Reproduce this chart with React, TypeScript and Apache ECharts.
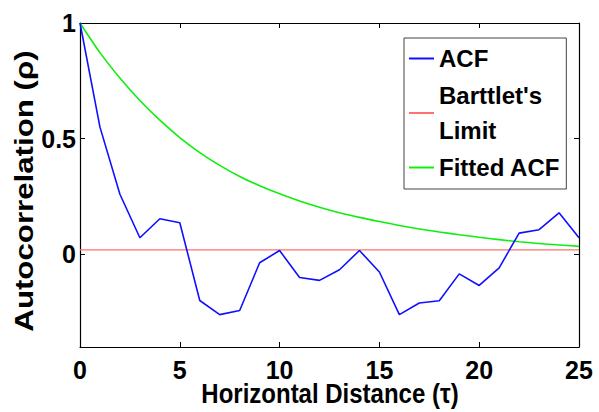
import React, { useEffect, useRef } from "react";
import * as echarts from "echarts";

const lags = [0, 1, 2, 3, 4, 5, 6, 7, 8, 9, 10, 11, 12, 13, 14, 15, 16, 17, 18, 19, 20, 21, 22, 23, 24, 25];
const acfValues = [1.0, 0.55, 0.26, 0.072, 0.154, 0.137, -0.199, -0.26, -0.242, -0.036, 0.017, -0.1, -0.112, -0.066, 0.017, -0.076, -0.26, -0.21, -0.2, -0.084, -0.134, -0.058, 0.092, 0.107, 0.18, 0.072];
const fittedValues = [1.0, 0.872, 0.762, 0.665, 0.58, 0.505, 0.44, 0.385, 0.337, 0.297, 0.262, 0.231, 0.204, 0.18, 0.16, 0.142, 0.125, 0.11, 0.097, 0.085, 0.074, 0.064, 0.055, 0.047, 0.041, 0.035];
const limitX = [0, 25];
const limitValue = 0.02;
const xTicks = [0, 5, 10, 15, 20, 25];
const yTicks = [0, 0.5, 1];
const seriesNames = ["ACF", "Barttlet's Limit", "Fitted ACF"];
const xTitle = "Horizontal Distance (τ)";
const yTitle = "Autocorrelation (ρ)";

const FONT = "'Liberation Sans', Arial, Helvetica, sans-serif";

export default function App() {
  const ref = useRef<HTMLDivElement>(null);
  useEffect(() => {
    if (!ref.current) return;
    const chart = echarts.init(ref.current, null, { renderer: "svg" });
    const axisLine = { show: true, onZero: false, lineStyle: { color: "#000", width: 1.2 } };
    const tick = { show: true, inside: true, length: 5, lineStyle: { color: "#000", width: 1 } };
    chart.setOption({
      animation: false,
      backgroundColor: "#fff",
      grid: { left: 80, right: 20, top: 23, bottom: 65, containLabel: false },
      xAxis: [
        {
          type: "value",
          min: 0,
          max: 25,
          interval: 5,
          position: "bottom",
          axisLine,
          axisTick: tick,
          splitLine: { show: false },
          axisLabel: {
            fontFamily: FONT,
            fontSize: 25,
            fontWeight: "bold",
            color: "#000",
            margin: 10,
            customValues: xTicks,
          },
        },
        {
          type: "value",
          min: 0,
          max: 25,
          interval: 5,
          position: "top",
          axisLine,
          axisTick: tick,
          splitLine: { show: false },
          axisLabel: { show: false },
        },
      ],
      yAxis: [
        {
          type: "value",
          min: -0.4,
          max: 1,
          position: "left",
          axisLine,
          axisTick: { ...tick, customValues: yTicks },
          splitLine: { show: false },
          axisLabel: {
            fontFamily: FONT,
            fontSize: 25,
            fontWeight: "bold",
            color: "#000",
            margin: 4,
            customValues: yTicks,
            formatter: (v: number) => String(v),
          },
        },
        {
          type: "value",
          min: -0.4,
          max: 1,
          position: "right",
          axisLine,
          axisTick: { ...tick, customValues: yTicks },
          splitLine: { show: false },
          axisLabel: { show: false, customValues: yTicks },
        },
      ],
      legend: {
        left: 404,
        top: 38,
        orient: "vertical",
        backgroundColor: "#fff",
        borderColor: "#444",
        borderWidth: 1,
        padding: [3, 6, 4, 5],
        itemGap: 2,
        itemWidth: 25,
        itemHeight: 2,
        icon: "rect",
        data: seriesNames,
        formatter: (name: string) => (name === "Barttlet's Limit" ? "Barttlet's\nLimit" : name),
        textStyle: {
          fontFamily: FONT,
          fontSize: 24,
          fontWeight: "bold",
          color: "#000",
          lineHeight: 35,
        },
      },
      graphic: [
        {
          type: "text",
          x: 330,
          y: 393,
          scaleY: 1.18,
          style: {
            text: xTitle,
            font: `bold 24px ${FONT}`,
            fill: "#000",
            textAlign: "center",
            textVerticalAlign: "middle",
          },
        },
        {
          type: "text",
          x: 24,
          y: 191,
          rotation: Math.PI / 2,
          scaleX: 1.25,
          style: {
            text: yTitle,
            font: `bold 25px ${FONT}`,
            fill: "#000",
            textAlign: "center",
            textVerticalAlign: "middle",
          },
        },
      ],
      series: [
        {
          name: seriesNames[0],
          type: "line",
          data: lags.map((x, i) => [x, acfValues[i]]),
          showSymbol: false,
          symbol: "none",
          color: "#1010ff",
          lineStyle: { color: "#1010ff", width: 1.6 },
          z: 3,
        },
        {
          name: seriesNames[1],
          type: "line",
          data: limitX.map((x) => [x, limitValue]),
          showSymbol: false,
          symbol: "none",
          color: "#ff7070",
          lineStyle: { color: "#ff7070", width: 1.2 },
          z: 2,
        },
        {
          name: seriesNames[2],
          type: "line",
          data: lags.map((x, i) => [x, fittedValues[i]]),
          showSymbol: false,
          symbol: "none",
          smooth: 0.3,
          color: "#10ee10",
          lineStyle: { color: "#10ee10", width: 1.6 },
          z: 2,
        },
      ],
    });
    return () => chart.dispose();
  }, []);
  return <div ref={ref} style={{ position: "fixed", left: 0, top: 0, width: 599, height: 412 }} />;
}
